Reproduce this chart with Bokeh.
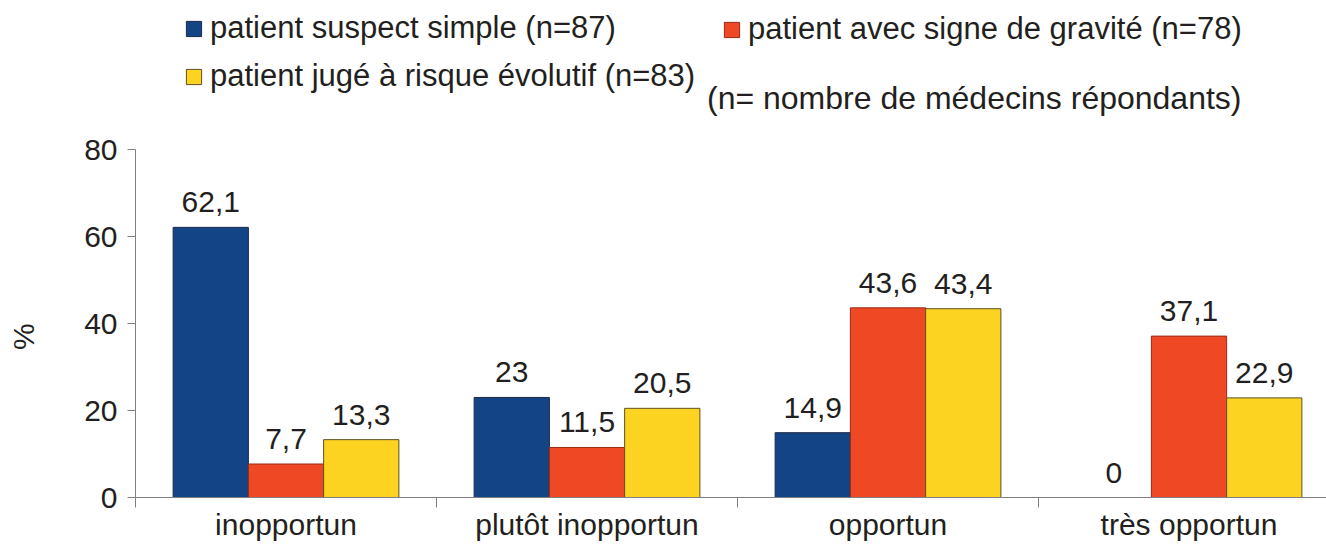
import numpy as np
from bokeh.plotting import figure
from bokeh.models import (ColumnDataSource, LinearAxis, FixedTicker, Range1d,
                          Legend, LegendItem, LabelSet, Label)
from bokeh.core.properties import value
from bokeh.embed import file_html
from bokeh.resources import INLINE

categories = ["inopportun", "plutôt inopportun", "opportun", "très opportun"]
series_names = ["patient suspect simple (n=87)",
                "patient avec signe de gravité (n=78)",
                "patient jugé à risque évolutif (n=83)"]
suspect_simple = [62.1, 23.0, 14.9, 0.0]
signe_gravite = [7.7, 11.5, 43.6, 37.1]
risque_evolutif = [13.3, 20.5, 43.4, 22.9]
value_labels = [["62,1", "23", "14,9", "0"],
                ["7,7", "11,5", "43,6", "37,1"],
                ["13,3", "20,5", "43,4", "22,9"]]
y_ticks = [0, 20, 40, 60, 80]
y_title = "%"
note = "(n= nombre de médecins répondants)"

colors = ["#134586", "#EE4824", "#FDD321"]
outlines = ["#1b2a48", "#9a2a12", "#5e5020"]
offsets = [-0.25, 0.0, 0.25]
FONT = "Liberation Sans"
TXT = "#231f20"
FS = "30px"

W, H = 1326, 549
LEFT, BOTTOM = 135, 52
frame_w, frame_h = W - LEFT, H - BOTTOM
px_per_unit = 348 / 80.0          # 0..80 spans 348 px in the reference
px_per_cat = 301.0
Y_TITLE_POS = 37.0                # vertical place of the "%" title

p = figure(width=W, height=H, output_backend="svg", toolbar_location=None,
           x_axis_location=None, y_axis_location=None,
           x_range=Range1d(0, frame_w / px_per_cat),
           y_range=Range1d(0, frame_h / px_per_unit),
           min_border_left=LEFT, min_border_right=0, min_border_top=0,
           min_border_bottom=BOTTOM)
p.outline_line_color = None
p.xgrid.grid_line_color = None
p.ygrid.grid_line_color = None

xs = np.arange(len(categories)) + 0.5
renderers = []
all_series = [suspect_simple, signe_gravite, risque_evolutif]
for i, vals in enumerate(all_series):
    src = ColumnDataSource(dict(x=xs + offsets[i], top=vals, lab=value_labels[i]))
    r = p.vbar(x="x", top="top", bottom=0, width=0.25, source=src,
               fill_color=colors[i], line_color=outlines[i], line_width=1)
    renderers.append(r)
    ls = LabelSet(x="x", y="top", text="lab", source=src, text_align="center",
                  text_baseline="alphabetic", y_offset=15, text_font=value(FONT),
                  text_font_size=value(FS), text_color=TXT)
    p.add_layout(ls)

# y axis
yax = LinearAxis(ticker=FixedTicker(ticks=y_ticks),
                 bounds=(y_ticks[0], y_ticks[-1]))
yax.axis_line_color = "#808080"
yax.major_tick_line_color = "#808080"
yax.major_tick_out = 8
yax.major_tick_in = 0
yax.minor_tick_line_color = None
yax.major_label_text_font = FONT
yax.major_label_text_font_size = FS
yax.major_label_text_color = TXT
yax.major_label_standoff = 10
p.add_layout(yax, "left")

# outer axis that only carries the "%" title, level with the 0..80 scale
ytit = LinearAxis(ticker=FixedTicker(ticks=[Y_TITLE_POS], minor_ticks=[]),
                  major_label_overrides={Y_TITLE_POS: y_title})
ytit.axis_line_color = None
ytit.major_tick_line_color = None
ytit.minor_tick_line_color = None
ytit.major_tick_out = 0
ytit.major_tick_in = 0
ytit.major_label_orientation = "parallel"
ytit.major_label_standoff = 41
ytit.major_label_text_font = FONT
ytit.major_label_text_font_size = FS
ytit.major_label_text_color = TXT
p.add_layout(ytit, "left")

# x axis: labels at category centres, ticks (minor) at category boundaries
xax = LinearAxis(ticker=FixedTicker(ticks=list(xs),
                                    minor_ticks=list(range(len(categories) + 1))),
                 major_label_overrides={float(x): c for x, c in zip(xs, categories)})
xax.axis_line_color = "#808080"
xax.major_tick_line_color = None
xax.major_tick_out = 0
xax.major_tick_in = 0
xax.minor_tick_line_color = "#808080"
xax.minor_tick_out = 10
xax.minor_tick_in = 0
xax.major_label_text_font = FONT
xax.major_label_text_font_size = FS
xax.major_label_text_color = TXT
xax.major_label_standoff = 0
p.add_layout(xax, "below")

def make_legend(items, loc):
    return Legend(items=items, location=loc, orientation="vertical",
                  label_text_font=FONT, label_text_font_size="31px",
                  label_text_color=TXT, glyph_width=19, glyph_height=19,
                  label_standoff=7, spacing=12, padding=0, margin=0,
                  border_line_color=None, background_fill_alpha=0)

lg1 = make_legend([LegendItem(label=series_names[0], renderers=[renderers[0]]),
                   LegendItem(label=series_names[2], renderers=[renderers[2]])],
                  (49, 403))
lg2 = make_legend([LegendItem(label=series_names[1], renderers=[renderers[1]])],
                  (587, 450))
p.add_layout(lg1, "center")
p.add_layout(lg2, "center")

p.add_layout(Label(x=1106, y=400, x_units="screen", y_units="screen", text=note,
                   text_align="right", text_baseline="middle", text_font=FONT,
                   text_font_size="32px", text_color=TXT))

open("out.html", "w").write(file_html(p, INLINE))
